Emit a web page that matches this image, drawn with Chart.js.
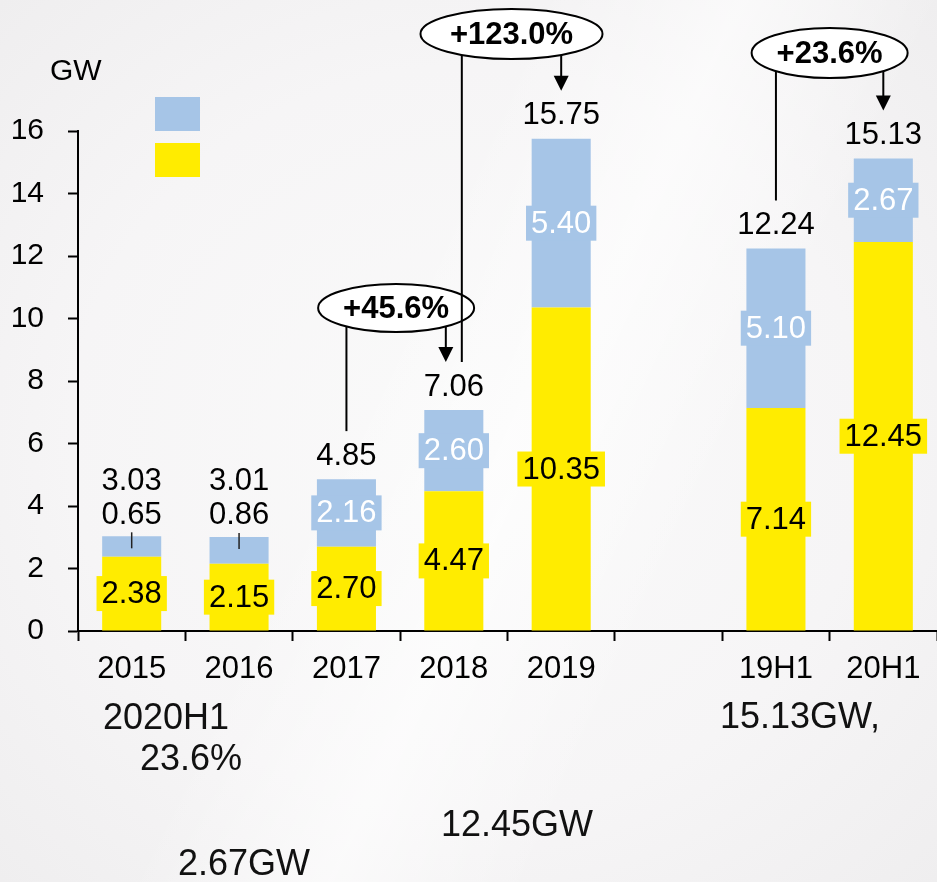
<!DOCTYPE html>
<html>
<head>
<meta charset="utf-8">
<script src="https://cdn.jsdelivr.net/npm/chart.js@4/dist/chart.umd.min.js"></script>
<style>
  html, body { margin: 0; padding: 0; }
  body {
    width: 937px; height: 882px; overflow: hidden;
    background:
      linear-gradient(115deg, rgba(255,255,255,0) 40%, rgba(255,255,255,0.6) 55%, rgba(255,255,255,0) 70%),
      radial-gradient(ellipse at 50% 50%, #fafafa 0%, #f6f5f6 60%, #efeeef 100%);
  }
  canvas { display: block; }
</style>
</head>
<body>
<canvas id="chart" width="937" height="882"></canvas>
<script>
// values (GW)
const categories = ['2015', '2016', '2017', '2018', '2019', '', '19H1', '20H1'];
const yellowValues = [2.38, 2.15, 2.70, 4.47, 10.35, null, 7.14, 12.45];
const blueValues = [0.65, 0.86, 2.16, 2.60, 5.40, null, 5.10, 2.67];
const totalLabels = ['3.03', '3.01', '4.85', '7.06', '15.75', null, '12.24', '15.13'];
const yTickValues = [0, 2, 4, 6, 8, 10, 12, 14, 16];
const growthNotes = [
    { label: '+45.6%', from: 2, to: 3 },
    { label: '+123.0%', from: 3, to: 4 },
    { label: '+23.6%', from: 6, to: 7 }
];
const footnotes = ['2020H1', '23.6%', '15.13GW,', '12.45GW', '2.67GW'];

const YELLOW = '#FFEC00';
const BLUE = '#A6C5E7';
const FONT = "'Liberation Sans', Arial, sans-serif";

// where the callouts and footnotes sit
const noteLayout = [
    { cy: 308, rx: 78, ry: 24, dx: -4, fromDx: 0, toDx: -8 },
    { cy: 34, rx: 91, ry: 25, dx: 4, fromDx: 8, toDx: 0 },
    { cy: 53, rx: 78, ry: 25, dx: 0, fromDx: 0, toDx: 0 }
];
const footLayout = [[103, 719], [140, 760], [720, 718], [441, 826], [178, 865]];

function boxLabel(ctx, text, x, y, bg, fg) {
    ctx.font = '31px ' + FONT;
    const w = ctx.measureText(text).width + 10;
    ctx.fillStyle = bg;
    ctx.fillRect(x - w / 2, y - 17.5, w, 35);
    ctx.fillStyle = fg;
    ctx.textAlign = 'center';
    ctx.textBaseline = 'middle';
    ctx.fillText(text, x, y + 1);
}

function arrowDown(ctx, x, y0, y1) {
    ctx.beginPath();
    ctx.moveTo(x, y0);
    ctx.lineTo(x, y1 - 12);
    ctx.stroke();
    ctx.beginPath();
    ctx.moveTo(x - 7.5, y1 - 15);
    ctx.lineTo(x + 7.5, y1 - 15);
    ctx.lineTo(x, y1);
    ctx.closePath();
    ctx.fill();
}

const labelPlugin = {
    id: 'labelPlugin',
    afterDatasetsDraw(chart) {
        const ctx = chart.ctx;
        const xs = chart.scales.x;
        const m0 = chart.getDatasetMeta(0);
        const m1 = chart.getDatasetMeta(1);
        const barTop = [];
        ctx.save();

        categories.forEach((c, i) => {
            if (yellowValues[i] == null) return;
            const yb = m0.data[i];
            const bb = m1.data[i];
            barTop[i] = bb.y;
            boxLabel(ctx, yellowValues[i].toFixed(2), yb.x, (yb.y + yb.base) / 2, YELLOW, '#000');
            ctx.font = '31px ' + FONT;
            ctx.textAlign = 'center';
            ctx.textBaseline = 'middle';
            if (bb.base - bb.y > 40) {
                boxLabel(ctx, blueValues[i].toFixed(2), bb.x, (bb.y + bb.base) / 2, BLUE, '#fff');
                ctx.fillStyle = '#000';
                ctx.fillText(totalLabels[i], bb.x, bb.y - 23);
            } else {
                ctx.fillStyle = '#000';
                ctx.fillText(blueValues[i].toFixed(2), bb.x, bb.y - 21);
                ctx.fillText(totalLabels[i], bb.x, bb.y - 55);
                ctx.strokeStyle = '#222';
                ctx.lineWidth = 1.5;
                ctx.beginPath();
                ctx.moveTo(bb.x, bb.y - 4);
                ctx.lineTo(bb.x, bb.y + 12);
                ctx.stroke();
            }
        });

        // growth callouts
        ctx.strokeStyle = '#000';
        ctx.fillStyle = '#000';
        ctx.lineWidth = 2;
        growthNotes.forEach((n, k) => {
            const L = noteLayout[k];
            const xf = xs.getPixelForValue(n.from) + L.fromDx;
            const xt = xs.getPixelForValue(n.to) + L.toDx;
            const cx = (xs.getPixelForValue(n.from) + xs.getPixelForValue(n.to)) / 2 + L.dx;
            const edge = x => L.cy + L.ry * Math.sqrt(Math.max(0, 1 - Math.pow((x - cx) / L.rx, 2)));

            ctx.beginPath();
            ctx.ellipse(cx, L.cy, L.rx, L.ry, 0, 0, Math.PI * 2);
            ctx.fillStyle = '#fff';
            ctx.fill();
            ctx.stroke();
            ctx.fillStyle = '#000';
            ctx.font = 'bold 31px ' + FONT;
            ctx.textAlign = 'center';
            ctx.textBaseline = 'middle';
            ctx.fillText(n.label, cx, L.cy + 1);

            ctx.beginPath();
            ctx.moveTo(xf, edge(xf));
            ctx.lineTo(xf, barTop[n.from] - 48);
            ctx.stroke();
            arrowDown(ctx, xt, edge(xt), barTop[n.to] - 48);
        });

        // legend swatches (legend text is not in the picture)
        ctx.fillStyle = BLUE;
        ctx.fillRect(155, 97, 45, 34);
        ctx.fillStyle = YELLOW;
        ctx.fillRect(155, 143, 45, 34);

        ctx.fillStyle = '#000';
        ctx.font = '30px ' + FONT;
        ctx.textAlign = 'left';
        ctx.textBaseline = 'middle';
        ctx.fillText('GW', 50, 72);

        ctx.font = '36px ' + FONT;
        ctx.fillStyle = '#111';
        footnotes.forEach((t, i) => ctx.fillText(t, footLayout[i][0], footLayout[i][1]));
        ctx.restore();
    }
};

new Chart(document.getElementById('chart'), {
    type: 'bar',
    data: {
        labels: categories,
        datasets: [
            { data: yellowValues, backgroundColor: YELLOW },
            { data: blueValues, backgroundColor: BLUE }
        ]
    },
    options: {
        responsive: false,
        animation: false,
        devicePixelRatio: 1,
        datasets: { bar: { categoryPercentage: 1, barPercentage: 0.55 } },
        layout: { padding: { top: 131, left: 0, right: 0, bottom: 0 } },
        plugins: { legend: { display: false }, tooltip: { enabled: false } },
        scales: {
            x: {
                stacked: true,
                grid: { offset: true, drawOnChartArea: false, tickLength: 10, tickColor: '#000', tickWidth: 2 },
                border: { color: '#000', width: 2 },
                ticks: { color: '#000', font: { family: FONT, size: 31 }, padding: 10, maxRotation: 0, autoSkip: false },
                afterFit(s) { s.height = 251; }
            },
            y: {
                stacked: true,
                min: 0,
                max: 16,
                afterBuildTicks(s) { s.ticks = yTickValues.map(v => ({ value: v })); },
                grid: { drawOnChartArea: false, tickLength: 10, tickColor: '#000', tickWidth: 2 },
                border: { color: '#000', width: 2 },
                ticks: { color: '#000', font: { family: FONT, size: 30 }, padding: 24 },
                afterFit(s) { s.width = 78; }
            }
        }
    },
    plugins: [labelPlugin]
});
</script>
</body>
</html>
